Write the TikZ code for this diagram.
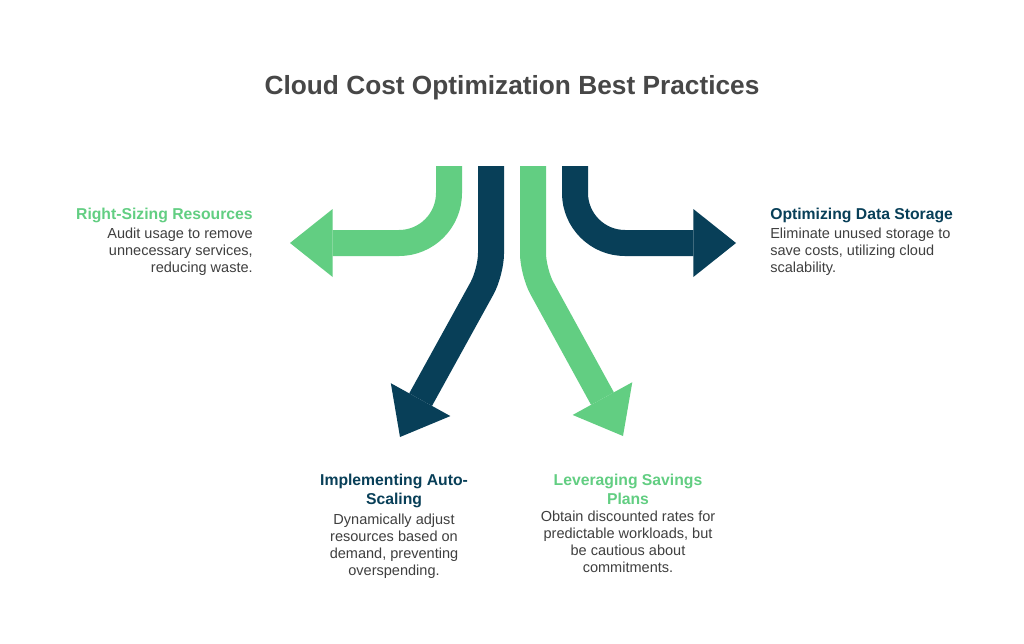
\documentclass[tikz,border=0pt]{standalone}
\usepackage{fontspec}
\setmainfont{Liberation Sans}
\usepackage{tikz}
\usetikzlibrary{positioning}
\usetikzlibrary{arrows.meta}
\definecolor{leaf}{HTML}{62CE82}
\definecolor{ink}{HTML}{083F58}
\definecolor{titlegray}{HTML}{474747}
\definecolor{bodygray}{HTML}{3F3F3F}

\begin{document}
\begin{tikzpicture}[x=0.75pt,y=-0.75pt,
    bigarrow/.style={line width=19.5pt,rounded corners=#1,
        -{Triangle[length=32pt,width=51pt,line width=0pt]}},
    head/.style={inner sep=0pt,font=\fontsize{11.8}{14.3}\selectfont\bfseries},
    body/.style={inner sep=0pt,text=bodygray,font=\fontsize{10.9}{12.75}\selectfont},
    node distance=4pt,
    ]
\fill[white] (0,0) rectangle (1024,643);
\useasboundingbox (0,0) rectangle (1024,643);

\node[inner sep=0pt,anchor=base,text=titlegray,font=\fontsize{19.7}{23}\selectfont\bfseries]
    (title) at (512,94) {Cloud Cost Optimization Best Practices};

\draw[bigarrow=37.5pt,leaf] (449,166) -- (449,243) -- (290,243);
\draw[bigarrow=14pt,ink] (491,166) -- (491,272) -- (400,437);
\draw[bigarrow=14pt,leaf] (533,166) -- (533,272) -- (623,436);
\draw[bigarrow=37.5pt,ink] (575,166) -- (575,243) -- (736,243);

\node[head,text=leaf,anchor=base east] (rsz) at (253,219) {Right-Sizing Resources};
\node[body,align=right,below=of rsz.south east,anchor=north east] (rsz-txt)
    {Audit usage to remove\\unnecessary services,\\reducing waste.};

\node[head,text=ink,anchor=base west] (ods) at (770,219) {Optimizing Data Storage};
\node[body,align=left,below=of ods.south west,anchor=north west] (ods-txt)
    {Eliminate unused storage to\\save costs, utilizing cloud\\scalability.};

\node[head,text=ink,align=center,anchor=north] (ias) at (394,474) {Implementing Auto-\\Scaling};
\node[body,align=center,below=of ias] (ias-txt)
    {Dynamically adjust\\resources based on\\demand, preventing\\overspending.};

\node[head,text=leaf,align=center,anchor=north] (lsp) at (628,474) {Leveraging Savings\\Plans};
\node[body,align=center,below=of lsp] (lsp-txt)
    {Obtain discounted rates for\\predictable workloads, but\\be cautious about\\commitments.};
\end{tikzpicture}
\end{document}
